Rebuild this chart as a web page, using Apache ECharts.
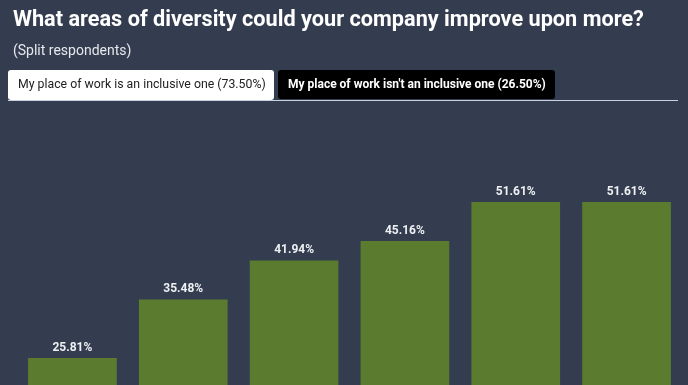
<!DOCTYPE html>
<html>
<head>
<meta charset="utf-8">
<script src="https://cdn.jsdelivr.net/npm/echarts@6/dist/echarts.min.js"></script>
<style>
html,body{margin:0;padding:0;background:#333d4f;overflow:hidden;}
#c{width:688px;height:560px;}
</style>
</head>
<body>
<div id="c"></div>
<script>
var categories = ["Age", "Disability", "Gender", "Sexual orientation", "Ethnicity", "Socio-economic background"];
var values = [25.81, 35.48, 41.94, 45.16, 51.61, 51.61];
var titleText = "What areas of diversity could your company improve upon more?";
var subtitleText = "(Split respondents)";
var tabLabels = ["My place of work is an inclusive one (73.50%)", "My place of work isn't an inclusive one (26.50%)"];

var chart = echarts.init(document.getElementById('c'), null, {renderer: 'canvas'});
chart.setOption({
  backgroundColor: '#333d4f',
  animation: false,
  title: {
    text: titleText,
    subtext: subtitleText,
    left: 8, top: 5,
    itemGap: 12,
    textStyle: {color: '#ffffff', fontFamily: 'Roboto', fontWeight: 'bold', fontSize: 21.7},
    subtextStyle: {color: '#e6e8ec', fontFamily: 'Roboto', fontSize: 14}
  },
  graphic: [
    {type: 'rect', shape: {x: 8, y: 70, width: 266, height: 30, r: 3}, style: {fill: '#ffffff'}},
    {type: 'text', style: {x: 18, y: 85, text: tabLabels[0], fill: '#222222', font: '12.3px Roboto', verticalAlign: 'middle'}},
    {type: 'rect', shape: {x: 278, y: 70, width: 277, height: 29, r: 3}, style: {fill: '#000000'}},
    {type: 'text', style: {x: 288, y: 85, text: tabLabels[1], fill: '#ffffff', font: 'bold 12px Roboto', verticalAlign: 'middle'}},
    {type: 'line', shape: {x1: 8, y1: 100.5, x2: 678, y2: 100.5}, style: {stroke: '#c9d1e0', lineWidth: 1}}
  ],
  grid: {left: 17, right: 6, top: 151.2, height: 362.8, containLabel: false},
  xAxis: {
    type: 'category', data: categories,
    axisLine: {show: false}, axisTick: {show: false},
    axisLabel: {color: '#ffffff'}
  },
  yAxis: {
    type: 'value', min: 0, max: 60, interval: 10,
    show: false, splitLine: {show: false}
  },
  series: [{
    type: 'bar', data: values, barWidth: '80%',
    itemStyle: {color: '#5b7c2f'},
    label: {
      show: true, position: 'top', distance: 4,
      formatter: function(p){ return p.value.toFixed(2) + '%'; },
      color: '#eef0f3', fontFamily: 'Roboto', fontWeight: 'bold', fontSize: 12
    }
  }]
});
</script>
</body>
</html>
